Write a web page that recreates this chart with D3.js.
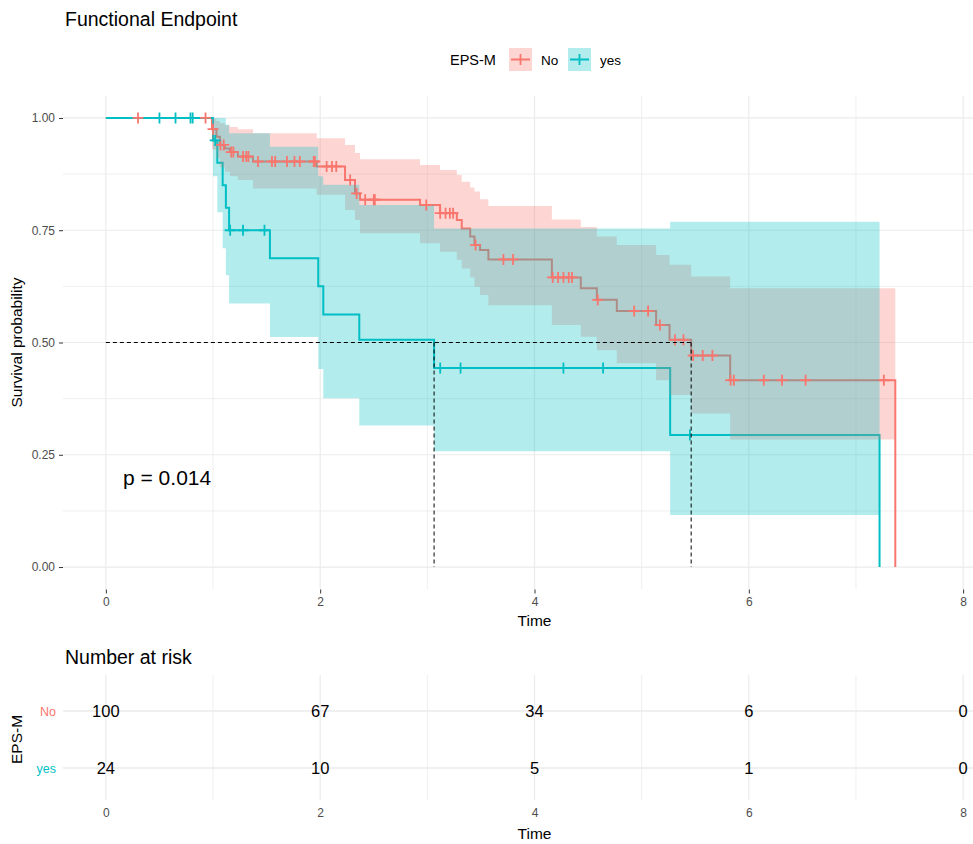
<!DOCTYPE html>
<html>
<head>
<meta charset="utf-8">
<script src="https://cdn.jsdelivr.net/npm/d3@7"></script>
<style>
  body { margin: 0; background: #ffffff; }
  text { font-family: "Liberation Sans", Arial, sans-serif; }
</style>
</head>
<body>
<script>
// ---------------- data ----------------
const groups = ["No", "yes"];
const groupColors = ["#F8766D", "#00BFC4"];
const timeTicks = [0, 2, 4, 6, 8];
const timeMinor = [1, 3, 5, 7];
const survTicks = [0, 0.25, 0.5, 0.75, 1];
const survMinor = [0.125, 0.375, 0.625, 0.875];

// group "No": step times and survival after each time
const noTime  = [0, 0.99, 1.032, 1.064, 1.111, 1.158, 1.232, 1.373, 1.967, 2.232, 2.325, 2.372, 2.932, 3.119, 3.275, 3.321, 3.400, 3.440, 3.492, 3.570, 4.162, 4.432, 4.582, 4.768, 5.135, 5.260, 5.462, 5.826, 7.367];
const noSurv  = [1, 0.975, 0.958, 0.94, 0.932, 0.924, 0.914, 0.903, 0.892, 0.862, 0.832, 0.818, 0.806, 0.788, 0.773, 0.754, 0.736, 0.717, 0.706, 0.685, 0.645, 0.621, 0.595, 0.570, 0.539, 0.506, 0.471, 0.416, 0];
const noUpper = [1, 0.998, 0.993, 0.988, 0.984, 0.98, 0.975, 0.966, 0.955, 0.94, 0.922, 0.908, 0.895, 0.884, 0.873, 0.858, 0.845, 0.836, 0.819, 0.804, 0.774, 0.757, 0.736, 0.717, 0.695, 0.673, 0.647, 0.621, 0.621];
const noLower = [1, 0.93, 0.91, 0.89, 0.88, 0.87, 0.862, 0.843, 0.829, 0.795, 0.773, 0.743, 0.721, 0.702, 0.684, 0.665, 0.645, 0.624, 0.606, 0.583, 0.539, 0.513, 0.483, 0.454, 0.416, 0.383, 0.342, 0.284, 0.284];
const noCensor = [0.30, 0.93, 1.00, 1.07, 1.10, 1.17, 1.19, 1.28, 1.31, 1.33, 1.42, 1.55, 1.58, 1.69, 1.76, 1.81, 1.94, 1.95, 2.06, 2.11, 2.15, 2.28, 2.34, 2.42, 2.50, 2.51, 2.99, 3.12, 3.17, 3.21, 3.24, 3.45, 3.71, 3.80, 4.17, 4.22, 4.27, 4.32, 4.35, 4.59, 4.93, 5.06, 5.17, 5.31, 5.39, 5.48, 5.57, 5.66, 5.83, 5.86, 6.14, 6.31, 6.53, 7.26];

// group "yes"
const yesTime  = [0, 1.00, 1.04, 1.09, 1.12, 1.15, 1.531, 1.982, 2.029, 2.365, 3.063, 5.266, 7.22];
const yesSurv  = [1, 0.95, 0.90, 0.85, 0.80, 0.75, 0.6875, 0.625, 0.5625, 0.506, 0.443, 0.294, 0];
const yesUpper = [1, 1, 1, 1, 0.985, 0.966, 0.936, 0.87, 0.851, 0.806, 0.754, 0.769, 0.769];
const yesLower = [1, 0.87, 0.79, 0.71, 0.65, 0.587, 0.512, 0.441, 0.376, 0.315, 0.258, 0.116, 0.116];
const yesCensor = [0.50, 0.65, 0.79, 0.81, 1.02, 1.16, 1.28, 1.48, 3.12, 3.31, 4.27, 4.64, 5.45];

const medianTimes = [5.462, 3.063];
const pValueText = "p = 0.014";

const riskTimes = [0, 2, 4, 6, 8];
const riskNo = [100, 67, 34, 6, 0];
const riskYes = [24, 10, 5, 1, 0];

// ---------------- layout ----------------
const W = 973, H = 844;
const panel = { left: 63, right: 1006, top: 95.5, bottom: 589.5 };
const risk = { top: 675, bottom: 800 };

const svg = d3.select("body").append("svg").attr("width", W).attr("height", H);

const x = d3.scaleLinear().domain([-0.4, 8.4]).range([panel.left, panel.right]);
const y = d3.scaleLinear().domain([-0.05, 1.05]).range([panel.bottom, panel.top]);
const yr = d3.scalePoint().domain(groups).range([711, 768]);

const grid = "#EBEBEB";
const tickCol = "#4D4D4D";

// Title
svg.append("text").attr("x", 65).attr("y", 26).attr("font-size", 19.5).attr("fill", "#000").text("Functional Endpoint");

// Legend
const lg = svg.append("g");
lg.append("text").attr("x", 450).attr("y", 60).attr("dy", "0.35em").attr("font-size", 14.5).text("EPS-M");
const keyX = [509, 568], labX = [541, 600];
groups.forEach((g, i) => {
  lg.append("rect").attr("x", keyX[i]).attr("y", 48).attr("width", 23).attr("height", 23)
    .attr("fill", groupColors[i]).attr("fill-opacity", 0.3);
  lg.append("line").attr("x1", keyX[i] + 2).attr("x2", keyX[i] + 21).attr("y1", 59.5).attr("y2", 59.5)
    .attr("stroke", groupColors[i]).attr("stroke-width", 2);
  lg.append("line").attr("x1", keyX[i] + 11.5).attr("x2", keyX[i] + 11.5).attr("y1", 54).attr("y2", 65)
    .attr("stroke", groupColors[i]).attr("stroke-width", 1.8);
  lg.append("text").attr("x", labX[i]).attr("y", 60).attr("dy", "0.35em").attr("font-size", 13.5).text(g);
});

// Clip
svg.append("clipPath").attr("id", "pclip").append("rect")
  .attr("x", panel.left).attr("y", panel.top).attr("width", panel.right - panel.left).attr("height", panel.bottom - panel.top);

const pg = svg.append("g").attr("clip-path", "url(#pclip)");

// Grid
pg.selectAll(".gxm").data(timeMinor).join("line")
  .attr("x1", d => x(d)).attr("x2", d => x(d)).attr("y1", panel.top).attr("y2", panel.bottom)
  .attr("stroke", grid).attr("stroke-width", 0.8);
pg.selectAll(".gym").data(survMinor).join("line")
  .attr("x1", panel.left).attr("x2", panel.right).attr("y1", d => y(d)).attr("y2", d => y(d))
  .attr("stroke", grid).attr("stroke-width", 0.8);
pg.selectAll(".gx").data(timeTicks).join("line")
  .attr("x1", d => x(d)).attr("x2", d => x(d)).attr("y1", panel.top).attr("y2", panel.bottom)
  .attr("stroke", grid).attr("stroke-width", 1.2);
pg.selectAll(".gy").data(survTicks).join("line")
  .attr("x1", panel.left).attr("x2", panel.right).attr("y1", d => y(d)).attr("y2", d => y(d))
  .attr("stroke", grid).attr("stroke-width", 1.2);

const series = [
  { time: noTime, surv: noSurv, up: noUpper, lo: noLower, cens: noCensor, color: groupColors[0] },
  { time: yesTime, surv: yesSurv, up: yesUpper, lo: yesLower, cens: yesCensor, color: groupColors[1] }
];

const line = d3.line().x(d => x(d.t)).y(d => y(d.s)).curve(d3.curveStepAfter);
const area = d3.area().x(d => x(d.t)).y0(d => y(d.lo)).y1(d => y(d.hi)).curve(d3.curveStepAfter);

// Lines (under the ribbons)
series.forEach(s => {
  const pts = s.time.map((t, i) => ({ t, s: s.surv[i] }));
  pg.append("path").attr("d", line(pts)).attr("fill", "none").attr("stroke", s.color).attr("stroke-width", 2);
});
// Ribbons
series.forEach(s => {
  const pts = s.time.map((t, i) => ({ t, hi: s.up[i], lo: s.lo[i] }));
  pg.append("path").attr("d", area(pts)).attr("fill", s.color).attr("fill-opacity", 0.3).attr("stroke", "none");
});
// Censor marks
function survAt(s, t) {
  let v = 1;
  for (let i = 0; i < s.time.length; i++) { if (s.time[i] <= t) v = s.surv[i]; }
  return v;
}
series.forEach(s => {
  const g = pg.append("g");
  s.cens.forEach(t => {
    const cx = x(t), cy = y(survAt(s, t));
    g.append("line").attr("x1", cx - 5.5).attr("x2", cx + 5.5).attr("y1", cy).attr("y2", cy)
      .attr("stroke", s.color).attr("stroke-width", 1.8);
    g.append("line").attr("x1", cx).attr("x2", cx).attr("y1", cy - 5.5).attr("y2", cy + 5.5)
      .attr("stroke", s.color).attr("stroke-width", 1.8);
  });
});

// Median lines
const medMax = d3.max(medianTimes);
pg.append("line").attr("x1", x(0)).attr("x2", x(medMax)).attr("y1", y(0.5)).attr("y2", y(0.5))
  .attr("stroke", "#000").attr("stroke-width", 1).attr("stroke-dasharray", "4,3");
medianTimes.forEach(m => {
  pg.append("line").attr("x1", x(m)).attr("x2", x(m)).attr("y1", y(0.5)).attr("y2", y(0))
    .attr("stroke", "#000").attr("stroke-width", 1).attr("stroke-dasharray", "4,3");
});

// p-value
pg.append("text").attr("x", x(0.16)).attr("y", y(0.2)).attr("dy", "0.35em").attr("font-size", 21).text(pValueText);

// Axes (main)
const ay = svg.append("g").attr("transform", `translate(${panel.left},0)`)
  .call(d3.axisLeft(y).tickValues(survTicks).tickFormat(d3.format(".2f")).tickSize(4).tickPadding(4));
ay.select(".domain").remove();
ay.selectAll("text").attr("font-size", 12).attr("fill", tickCol).style("font-family", '"Liberation Sans", Arial, sans-serif');
ay.selectAll("line").attr("stroke", "#333");

const ax = svg.append("g").attr("transform", `translate(0,${panel.bottom})`)
  .call(d3.axisBottom(x).tickValues(timeTicks).tickFormat(d3.format("d")).tickSize(4).tickPadding(4));
ax.select(".domain").remove();
ax.selectAll("text").attr("font-size", 12).attr("fill", tickCol).style("font-family", '"Liberation Sans", Arial, sans-serif');
ax.selectAll("line").attr("stroke", "#333");

svg.append("text").attr("x", (panel.left + panel.right) / 2).attr("y", 626).attr("text-anchor", "middle")
  .attr("font-size", 15.5).text("Time");
svg.append("text").attr("transform", `translate(22,${(panel.top + panel.bottom) / 2}) rotate(-90)`)
  .attr("text-anchor", "middle").attr("font-size", 15.5).text("Survival probability");

// ---------------- risk table ----------------
svg.append("text").attr("x", 65).attr("y", 664).attr("font-size", 19.5).text("Number at risk");

const rg = svg.append("g");
rg.selectAll(".rxm").data(timeMinor).join("line")
  .attr("x1", d => x(d)).attr("x2", d => x(d)).attr("y1", risk.top).attr("y2", risk.bottom)
  .attr("stroke", grid).attr("stroke-width", 0.8);
rg.selectAll(".rx").data(timeTicks).join("line")
  .attr("x1", d => x(d)).attr("x2", d => x(d)).attr("y1", risk.top).attr("y2", risk.bottom)
  .attr("stroke", grid).attr("stroke-width", 1.2);
rg.selectAll(".ry").data(groups).join("line")
  .attr("x1", panel.left).attr("x2", panel.right).attr("y1", d => yr(d)).attr("y2", d => yr(d))
  .attr("stroke", grid).attr("stroke-width", 1.4);

const riskRows = [riskNo, riskYes];
groups.forEach((g, gi) => {
  rg.selectAll(".rv" + gi).data(riskTimes).join("text")
    .attr("x", d => x(d)).attr("y", yr(g)).attr("dy", "0.35em").attr("text-anchor", "middle")
    .attr("font-size", 16.5).attr("fill", "#000").text((d, i) => riskRows[gi][i]);
});

const ry = svg.append("g").attr("transform", `translate(${panel.left},0)`)
  .call(d3.axisLeft(yr).tickSize(0).tickPadding(7));
ry.select(".domain").remove();
ry.selectAll("text").attr("font-size", 12.5).style("font-family", '"Liberation Sans", Arial, sans-serif')
  .attr("fill", (d, i) => groupColors[groups.indexOf(d)]);

const rx = svg.append("g").attr("transform", `translate(0,${risk.bottom + 4})`)
  .call(d3.axisBottom(x).tickValues(timeTicks).tickFormat(d3.format("d")).tickSize(0).tickPadding(4));
rx.select(".domain").remove();
rx.selectAll("text").attr("font-size", 12).attr("fill", tickCol).style("font-family", '"Liberation Sans", Arial, sans-serif');

svg.append("text").attr("x", (panel.left + panel.right) / 2).attr("y", 839).attr("text-anchor", "middle")
  .attr("font-size", 15.5).text("Time");
svg.append("text").attr("transform", `translate(22,${(risk.top + risk.bottom) / 2 + 2}) rotate(-90)`)
  .attr("text-anchor", "middle").attr("font-size", 15.5).text("EPS-M");
</script>
</body>
</html>
